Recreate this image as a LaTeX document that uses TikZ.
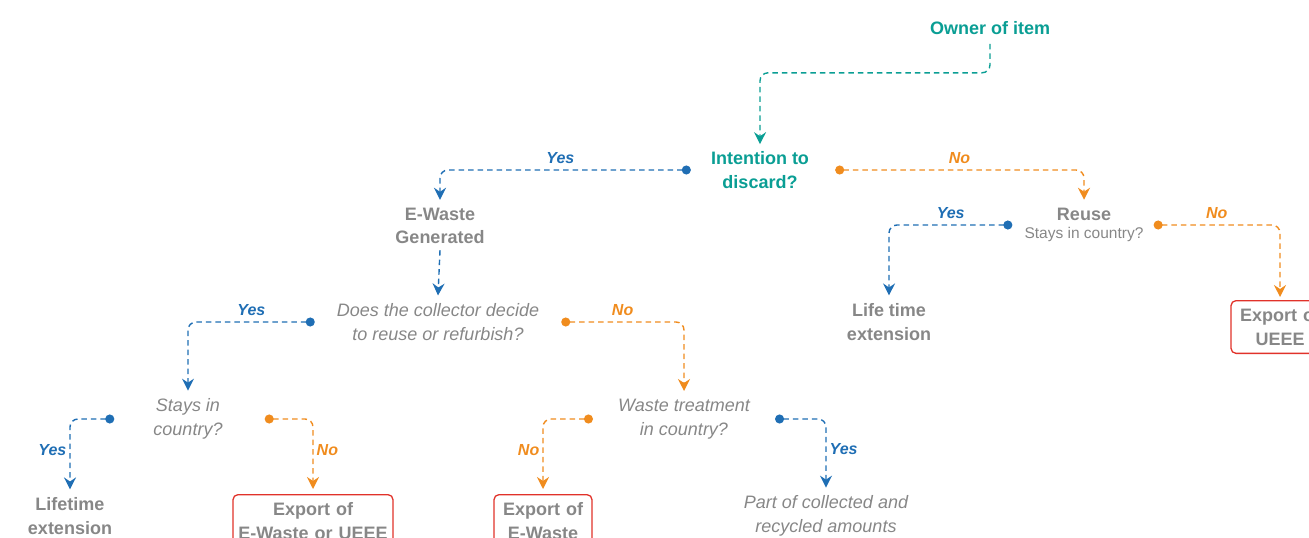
\documentclass[tikz,border=0pt]{standalone}
\usepackage{fontspec}
\setmainfont{Liberation Sans}
\usetikzlibrary{arrows.meta,positioning}
\definecolor{ownteal}{HTML}{0A9E94}
\definecolor{yesblue}{HTML}{1F6EB4}
\definecolor{noorange}{HTML}{F08C1E}
\definecolor{txtgray}{HTML}{878787}
\definecolor{exportred}{HTML}{E1322A}

\begin{document}
\begin{tikzpicture}[x=1pt,y=-1pt,
head/.style={font=\bfseries\fontsize{18}{24}\selectfont,text=ownteal,align=center,inner sep=3pt},
result/.style={font=\bfseries\fontsize{18}{23.5}\selectfont,text=txtgray,align=center,inner sep=3pt},
ask/.style={font=\itshape\fontsize{18}{23.5}\selectfont,text=txtgray,align=center,inner sep=3pt},
export/.style={result,draw=exportred,line width=1.3pt,rounded corners=5pt,anchor=north,inner ysep=8pt},
flow/.style={line width=1.4pt,dash pattern=on 5.5pt off 4pt,rounded corners=8pt},
tip/.style={-{Stealth[length=12pt,width=12pt,inset=4pt]}},
ownflow/.style={flow,ownteal,tip},
yesflow/.style={flow,yesblue,{Circle[length=9pt]}-{Stealth[length=12pt,width=12pt,inset=4pt]}},
noflow/.style={flow,noorange,{Circle[length=9pt]}-{Stealth[length=12pt,width=12pt,inset=4pt]}},
lbl/.style={font=\bfseries\itshape\fontsize{16}{18}\selectfont,inner sep=3pt}]
\useasboundingbox (0,0) rectangle (1309,538);
\clip (0,0) rectangle (1309,538);

% question nodes
\node (own) [head] at (990,28) {Owner of item};
\node (intent) [head] at (760,170) {Intention to\\discard?};
\node (ewaste) [result] at (440,226) {E-Waste\\Generated};
\node (collect) [ask] at (438,322) {Does the collector decide\\to reuse or refurbish?};
\node (stays) [ask] at (188,419) {Stays in\\country?};
\node (treat) [ask] at (684,419) {Waste treatment\\in country?};
\node (reuse) [result] at (1084,225) {Reuse\\[-5pt]{\normalfont\fontsize{15.5}{18}\selectfont Stays in country?}};

% end points
\node (lifeA) [result] at (70,516) {Lifetime\\extension};
\node (expA) [export,text width=154pt] at (313,494) {Export of\\E-Waste or UEEE};
\node (expB) [export,text width=92pt] at (543,494) {Export of\\E-Waste};
\node (part) [ask] at (826,516) {Part of collected and\\recycled amounts};
\node (lifeB) [result] at (889,322) {Life time\\extension};
\node (expC) [export,text width=92pt] at (1280,300) {Export of\\UEEE};

% connectors
\draw[ownflow] ([yshift=-6pt]own.south) -- ++(0,29) -| ([yshift=4pt]intent.north);
\draw[yesflow] ([xshift=-17pt]intent.west) -| node[lbl,pos=0.26,above=3pt,text=yesblue] {Yes} ([yshift=5pt]ewaste.north);
\draw[noflow] ([xshift=23pt]intent.east) -| node[lbl,pos=0.25,above=3pt,text=noorange] {No} ([yshift=5pt]reuse.north);
\draw[flow,yesblue,tip] ([yshift=-3pt]ewaste.south) -- ([yshift=5pt]collect.north);
\draw[yesflow] ([xshift=-19pt]collect.west) -| node[lbl,pos=0.25,above=3pt,text=yesblue] {Yes} ([yshift=5pt]stays.north);
\draw[noflow] ([xshift=19pt]collect.east) -| node[lbl,pos=0.25,above=3pt,text=noorange] {No} ([yshift=5pt]treat.north);
\draw[yesflow] ([xshift=-36pt]stays.west) -| node[lbl,pos=0.72,left,text=yesblue] {Yes} ([yshift=5pt]lifeA.north);
\draw[noflow] ([xshift=39pt]stays.east) -| node[lbl,pos=0.72,right,text=noorange] {No} ([yshift=5pt]expA.north);
\draw[noflow] ([xshift=-22pt]treat.west) -| node[lbl,pos=0.72,left,text=noorange] {No} ([yshift=5pt]expB.north);
\draw[yesflow] ([xshift=22pt]treat.east) -| node[lbl,pos=0.72,right,text=yesblue] {Yes} ([yshift=5pt]part.north);
\draw[yesflow] ([xshift=-9pt]reuse.west) -| node[lbl,pos=0.25,above=3pt,text=yesblue] {Yes} ([yshift=5pt]lifeB.north);
\draw[noflow] ([xshift=7pt]reuse.east) -| node[lbl,pos=0.25,above=3pt,text=noorange] {No} ([yshift=3pt]expC.north);
\end{tikzpicture}
\end{document}
